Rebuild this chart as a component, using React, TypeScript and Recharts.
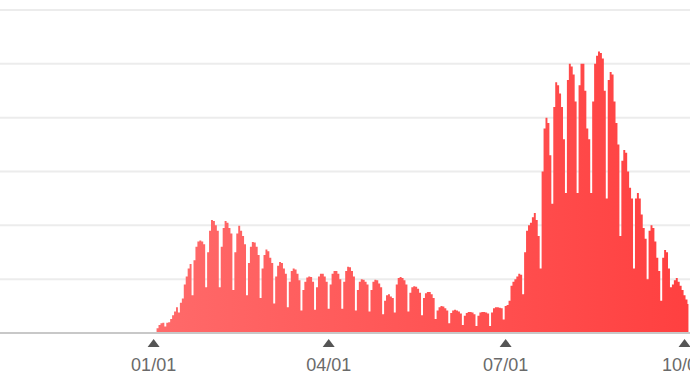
import React from "react";
import { AreaChart, Area, XAxis, YAxis, CartesianGrid } from "recharts";

// Daily values (arbitrary units, one gridline = 1000), 2021-01-01 .. 2021-10-03
const jan = [0, 20, 90, 150, 180, 190, 120, 190, 200, 260, 330, 400, 480, 380, 560, 640, 900, 1050, 1200, 1280, 700, 1350, 1600, 1700, 1720, 1700, 1650, 850, 1500, 1900, 2100];
const feb = [2080, 2000, 1900, 850, 1600, 1950, 2080, 2050, 1950, 1850, 800, 1500, 1850, 1990, 1900, 1800, 1650, 700, 1300, 1600, 1690, 1680, 1600, 1450, 650, 1200, 1450, 1550];
const mar = [1520, 1400, 1300, 550, 1050, 1250, 1320, 1300, 1200, 1100, 480, 950, 1150, 1200, 1180, 1100, 980, 420, 800, 950, 1030, 1050, 1040, 950, 430, 850, 1050, 1100, 1100, 1050, 950];
const apr = [450, 900, 1100, 1150, 1150, 1100, 1000, 450, 950, 1150, 1230, 1220, 1150, 1050, 420, 800, 950, 1000, 990, 950, 900, 400, 800, 950, 990, 980, 920, 850, 350, 600];
const may = [700, 720, 680, 650, 380, 900, 1020, 1040, 1020, 980, 900, 400, 750, 850, 870, 860, 820, 750, 330, 650, 740, 760, 760, 720, 650, 260, 420, 480, 500, 490, 460];
const jun = [420, 180, 370, 420, 430, 420, 400, 360, 150, 320, 370, 390, 390, 380, 350, 130, 320, 380, 390, 390, 380, 360, 130, 380, 460, 480, 480, 470, 460, 250];
const jul = [500, 520, 600, 880, 950, 1000, 1050, 1100, 1080, 720, 1500, 1900, 2000, 2050, 2150, 2230, 2100, 1800, 1200, 3000, 3800, 4000, 3900, 3300, 2400, 4200, 4660, 4600, 4450, 4200, 3600];
const aug = [2600, 4700, 5000, 4950, 4800, 4300, 2600, 4600, 5000, 5000, 4500, 3800, 3600, 2600, 4300, 5000, 5150, 5230, 5200, 5100, 4500, 2500, 4700, 4850, 4800, 4300, 3900, 3500, 1800, 3200, 3400];
const sep = [3350, 3000, 2700, 2500, 1200, 2500, 2600, 2500, 2200, 1950, 1750, 1000, 1900, 2000, 1950, 1700, 1400, 1150, 600, 1400, 1540, 1500, 1200, 850, 900, 980, 1020, 950, 880, 800];
const oct = [700, 620, 540];

const values = [...jan, ...feb, ...mar, ...apr, ...may, ...jun, ...jul, ...aug, ...sep, ...oct];

// x ticks: day offsets from 2021-01-01
const tickDays = [0, 90, 181, 273];
const tickLabels = ["01/01", "04/01", "07/01", "10/01"];
const yTicks = [0, 1000, 2000, 3000, 4000, 5000, 6000];

const data = values.map((v, i) => ({ d: i, v }));

const Tick = (props: any) => {
  const { x, y, payload } = props;
  const idx = tickDays.indexOf(payload.value);
  const label = idx >= 0 ? tickLabels[idx] : "";
  return (
    <g>
      <path d={`M${x - 6},${y + 12} L${x + 6},${y + 12} L${x},${y + 4} Z`} fill="#555" />
      <text
        x={x}
        y={y + 36}
        textAnchor="middle"
        fill="#6a6a6a"
        fontSize={18}
        fontFamily="'Liberation Sans', Arial, sans-serif"
      >
        {label}
      </text>
    </g>
  );
};

export default function App() {
  return (
    <div
      style={{
        position: "absolute",
        left: 0,
        top: 0,
        width: 690,
        height: 388,
        overflow: "hidden",
        background: "#fff",
      }}
    >
      <AreaChart
        width={704}
        height={388}
        data={data}
        margin={{ top: 10, right: 0, bottom: 0, left: 0 }}
      >
        <defs>
          <linearGradient id="fillGrad" x1="0" y1="0" x2="1" y2="0">
            <stop offset="0%" stopColor="#ff6a6a" />
            <stop offset="100%" stopColor="#ff4040" />
          </linearGradient>
        </defs>
        <CartesianGrid horizontal vertical={false} stroke="#ececec" strokeWidth={2} />
        <XAxis
          dataKey="d"
          type="number"
          domain={[-79, 283]}
          ticks={tickDays}
          interval={0}
          height={55}
          tick={<Tick />}
          tickLine={false}
          tickSize={0}
          axisLine={{ stroke: "#c8c8c8", strokeWidth: 2 }}
          allowDataOverflow
        />
        <YAxis hide domain={[0, 6000]} ticks={yTicks} />
        <Area
          type="step"
          dataKey="v"
          stroke="none"
          fill="url(#fillGrad)"
          fillOpacity={1}
          isAnimationActive={false}
        />
      </AreaChart>
    </div>
  );
}
